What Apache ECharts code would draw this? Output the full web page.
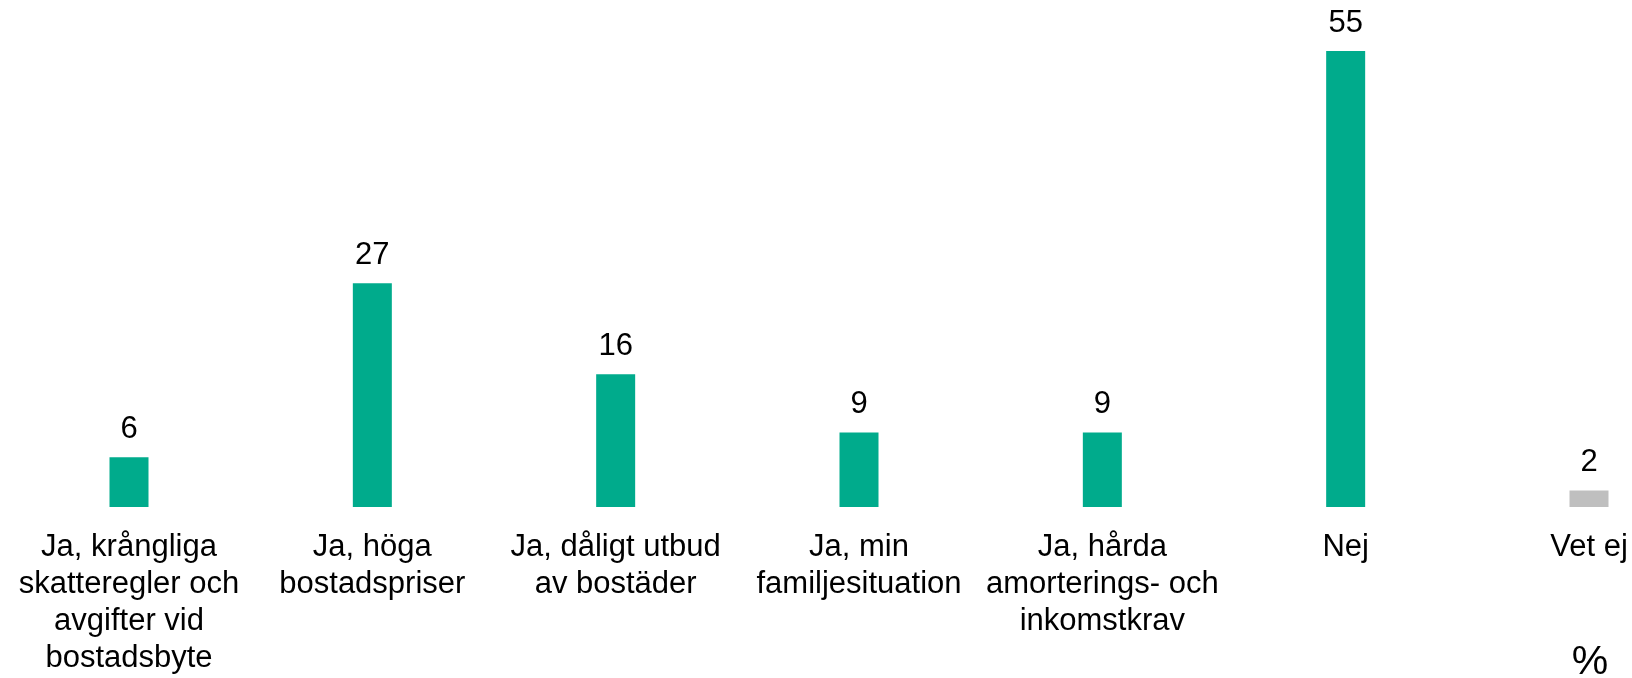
<!doctype html>
<html>
<head>
<meta charset="utf-8">
<title>Bostadsbyte</title>
<script src="https://cdn.jsdelivr.net/npm/echarts@6/dist/echarts.min.js"></script>
<style type="text/css">
	html, body { margin: 0; padding: 0; background: #fff; }
	#chart { width: 1632px; height: 678px; }
</style>
</head>
<body>
<div id="chart"></div>
<script type="text/javascript">
	var categories = [
		'Ja, krångliga\nskatteregler och\navgifter vid\nbostadsbyte',
		'Ja, höga\nbostadspriser',
		'Ja, dåligt utbud\nav bostäder',
		'Ja, min\nfamiljesituation',
		'Ja, hårda\namorterings- och\ninkomstkrav',
		'Nej',
		'Vet ej'
	];
	var values = [6, 27, 16, 9, 9, 55, 2];
	var barColors = ['#00ab8c', '#00ab8c', '#00ab8c', '#00ab8c', '#00ab8c', '#00ab8c', '#bfbfbf'];
	var unitLabel = '%';

	var font = '"Liberation Sans", Arial, sans-serif';
	var myChart = echarts.init(document.getElementById('chart'));
	var seriesData = [];
	for (var i = 0; i < values.length; i++) {
		seriesData.push({ value: values[i], itemStyle: { color: barColors[i] } });
	}
	var option = {
		animation: false,
		grid: {
			top: 51,
			left: 129,
			right: 43,
			bottom: 171
		},
		xAxis: {
			type: 'category',
			boundaryGap: false,
			data: categories,
			axisLine: { show: false },
			axisTick: { show: false },
			axisLabel: {
				interval: 0,
				margin: 22,
				color: '#000',
				fontFamily: font,
				fontSize: 31,
				lineHeight: 37,
				align: 'center'
			}
		},
		yAxis: {
			type: 'value',
			min: 0,
			max: 55,
			show: false,
			splitLine: { show: false }
		},
		series: [{
			type: 'bar',
			barWidth: 39,
			data: seriesData,
			label: {
				show: true,
				position: 'top',
				distance: 12,
				color: '#000',
				fontFamily: font,
				fontSize: 31
			}
		}],
		graphic: [{
			type: 'text',
			x: 1590,
			y: 642,
			style: {
				text: unitLabel,
				fill: '#000',
				font: '41px ' + font,
				textAlign: 'center',
				textVerticalAlign: 'top'
			}
		}]
	};
	myChart.setOption(option);
</script>
</body>
</html>
